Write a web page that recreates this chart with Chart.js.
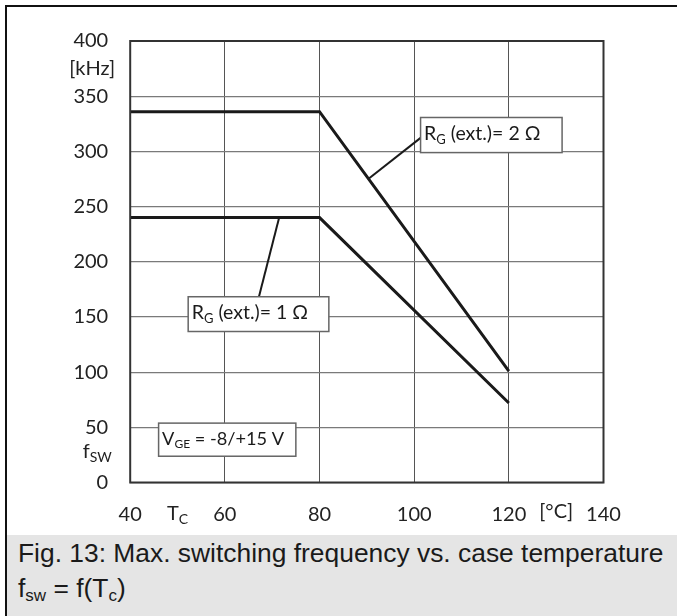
<!DOCTYPE html>
<html>
<head>
<meta charset="utf-8">
<script src="https://cdn.jsdelivr.net/npm/chart.js@4.4.1/dist/chart.umd.min.js"></script>
<style>
  html, body { margin: 0; padding: 0; background: #fff; }
  body { width: 677px; height: 616px; position: relative; overflow: hidden; }
  #frame { position: absolute; left: 5px; top: 5px; right: 0; bottom: 0; border-left: 2px solid #111; border-top: 2px solid #111; }
  #plot { position: absolute; left: 0; top: 0; width: 670px; height: 528px; }
  #caption { position: absolute; left: 0; top: 528px; right: 0; bottom: 0; background: #e5e5e5;
    font-family: "Liberation Sans", Arial, sans-serif; font-size: 26.4px; color: #1a1a1a;
    padding: 1px 0 0 11px; line-height: 35px; white-space: nowrap; }
  #caption sub { font-size: 17px; vertical-align: -4px; line-height: 0; }
</style>
</head>
<body>
<div id="frame">
  <div id="plot"><canvas id="myChart"></canvas></div>
  <div id="caption">Fig. 13: Max. switching frequency vs. case temperature<br>f<sub>sw</sub> = f(T<sub>c</sub>)</div>
</div>
<script>
// values
const temps = [40, 80, 120];
const fswRg2 = [336, 336, 101];
const fswRg1 = [240, 240, 72];
const xTicks = [40, 60, 80, 100, 120, 140];
const yTicks = [0, 50, 100, 150, 200, 250, 300, 350, 400];

const tickFont = '"Lato", "Noto Sans", sans-serif';

// boxed labels with leader lines (data coordinates)
const notes = [
    { box: [101.35, 330.7, 131.25, 298.9], size: 19.5, text: [['R', 0], ['G', 1], [' (ext.)= 2 Ω', 0]], lead: [[101.35, 312.2], [90.5, 275.6]] },
    { box: [52.25, 168.3, 81.97, 136.8], size: 19.5, text: [['R', 0], ['G', 1], [' (ext.)= 1 Ω', 0]], lead: [[67.2, 168.3], [71.5, 240.5]] },
    { box: [46.0, 53.8, 75.0, 23.8], size: 18.2, text: [['V', 0], ['GE', 1], [' = -8/+15 V', 0]], lead: null }
];

function drawParts(ctx, parts, x, y, size, align) {
    const subSize = Math.round(size * 0.68);
    let total = 0;
    const widths = parts.map(p => {
        ctx.font = (p[1] ? subSize : size) + 'px ' + tickFont;
        const w = ctx.measureText(p[0]).width;
        total += w;
        return w;
    });
    let cx = align === 'center' ? x - total / 2 : (align === 'right' ? x - total : x);
    ctx.textAlign = 'left';
    ctx.textBaseline = 'middle';
    parts.forEach((p, i) => {
        ctx.font = (p[1] ? subSize : size) + 'px ' + tickFont;
        ctx.fillText(p[0], cx, p[1] ? y + size * 0.3 : y);
        cx += widths[i];
    });
}

const extras = {
    id: 'extras',
    afterDatasetsDraw(chart) {
        const ctx = chart.ctx;
        const xs = chart.scales.x, ys = chart.scales.y;
        const a = chart.chartArea;
        ctx.save();
        // plot frame
        ctx.strokeStyle = '#333';
        ctx.lineWidth = 2;
        ctx.strokeRect(a.left, a.top, a.right - a.left, a.bottom - a.top);

        // boxed annotations
        notes.forEach(n => {
            const x1 = xs.getPixelForValue(n.box[0]), y1 = ys.getPixelForValue(n.box[1]);
            const x2 = xs.getPixelForValue(n.box[2]), y2 = ys.getPixelForValue(n.box[3]);
            if (n.lead) {
                ctx.strokeStyle = '#1a1a1a';
                ctx.lineWidth = 2;
                ctx.beginPath();
                ctx.moveTo(xs.getPixelForValue(n.lead[0][0]), ys.getPixelForValue(n.lead[0][1]));
                ctx.lineTo(xs.getPixelForValue(n.lead[1][0]), ys.getPixelForValue(n.lead[1][1]));
                ctx.stroke();
            }
            ctx.fillStyle = '#fff';
            ctx.fillRect(x1, y1, x2 - x1, y2 - y1);
            ctx.strokeStyle = '#666';
            ctx.lineWidth = 1.5;
            ctx.strokeRect(x1, y1, x2 - x1, y2 - y1);
            ctx.fillStyle = '#1a1a1a';
            drawParts(ctx, n.text, x1 + 3.5, (y1 + y2) / 2 - 1, n.size, 'left');
        });

        // axis unit / symbol labels
        ctx.fillStyle = '#222';
        drawParts(ctx, [['[kHz]', 0]], a.left - 38, ys.getPixelForValue(375), 20, 'center');
        drawParts(ctx, [['f', 0], ['SW', 1]], a.left - 33, ys.getPixelForValue(25) - 3, 20, 'center');
        const lblY = a.bottom + 31;
        drawParts(ctx, [['T', 0], ['C', 1]], xs.getPixelForValue(50), lblY, 20, 'center');
        drawParts(ctx, [['[°C]', 0]], xs.getPixelForValue(130), lblY - 2, 20, 'center');
        ctx.restore();
    }
};

const ctx = document.getElementById('myChart');

new Chart(ctx, {
    type: 'line',
    data: {
        datasets: [
            {
                label: 'RG (ext.) = 2 Ω',
                data: temps.map((t, i) => ({ x: t, y: fswRg2[i] })),
                borderColor: '#1a1a1a',
                borderWidth: 3,
                pointRadius: 0,
                tension: 0
            },
            {
                label: 'RG (ext.) = 1 Ω',
                data: temps.map((t, i) => ({ x: t, y: fswRg1[i] })),
                borderColor: '#1a1a1a',
                borderWidth: 3,
                pointRadius: 0,
                tension: 0
            }
        ]
    },
    options: {
        responsive: true,
        maintainAspectRatio: false,
        animation: false,
        layout: { padding: { top: 18, right: 73.5, left: 0, bottom: 0 } },
        plugins: {
            legend: { display: false },
            tooltip: { enabled: false }
        },
        scales: {
            x: {
                type: 'linear',
                min: 40,
                max: 140,
                afterBuildTicks: s => { s.ticks = xTicks.map(v => ({ value: v })); },
                afterFit: s => { s.height = 52.5; },
                grid: { color: '#555', lineWidth: 1, drawTicks: false },
                border: { display: false },
                ticks: { color: '#222', padding: 20, maxRotation: 0, font: { family: tickFont, size: 20 } }
            },
            y: {
                min: 0,
                max: 400,
                afterBuildTicks: s => { s.ticks = yTicks.map(v => ({ value: v })); },
                afterFit: s => { s.width = 123.2; },
                grid: { color: '#7a7a7a', lineWidth: 1.2, drawTicks: false },
                border: { display: false },
                ticks: { color: '#222', padding: 22, font: { family: tickFont, size: 20 } }
            }
        }
    },
    plugins: [extras]
});
</script>
</body>
</html>
